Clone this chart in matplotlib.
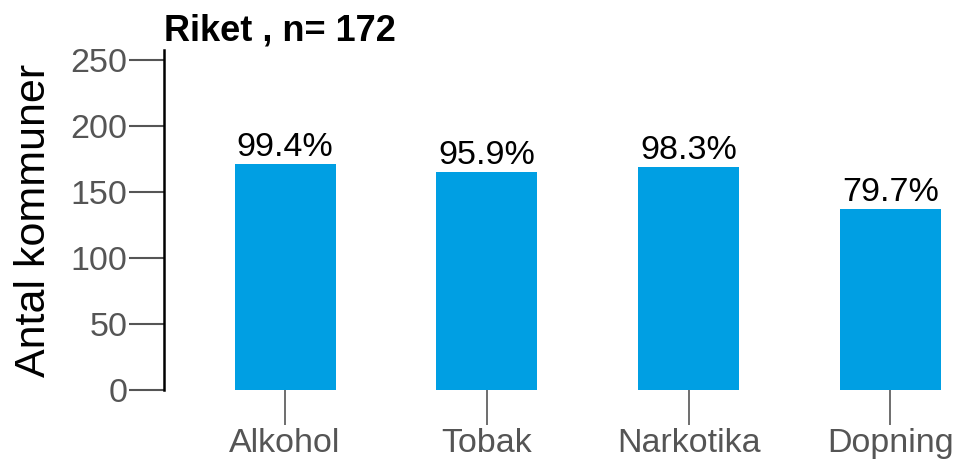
import matplotlib
matplotlib.use("Agg")
import matplotlib.pyplot as plt

# data
categories = ['Alkohol', 'Tobak', 'Narkotika', 'Dopning']
counts = [171, 165, 169, 137]
pct_labels = ['99.4%', '95.9%', '98.3%', '79.7%']
n_total = 172

plt.rcParams['font.family'] = ['Liberation Sans', 'DejaVu Sans']

fig = plt.figure(figsize=(9.57, 4.61), dpi=100)
ax = fig.add_axes([164/957, 71/461, 793/957, 340/461])

x = range(len(categories))
ax.bar(x, counts, width=0.5, color='#009FE3')
for xi, c, lab in zip(x, counts, pct_labels):
    ax.text(xi, c + 1, lab, ha='center', va='bottom', fontsize=24.5, color='black')

ax.set_xlim(-0.6, 3.33)
ax.set_ylim(0, 257.6)
ax.set_yticks([0, 50, 100, 150, 200, 250])
ax.set_xticks(list(x))
ax.set_xticklabels(categories)

for s in ['top', 'right', 'bottom']:
    ax.spines[s].set_visible(False)
ax.spines['left'].set_linewidth(1.8)
ax.spines['left'].set_color('black')

ax.tick_params(axis='y', length=25, width=1.5, color='#555555',
               labelsize=24.5, labelcolor='#555555', pad=1.5)
ax.tick_params(axis='x', length=25.5, width=1.2, color='#555555',
               labelsize=24.5, labelcolor='#555555', pad=1.5)

ax.set_ylabel('Antal kommuner', fontsize=31, color='black')
ax.yaxis.set_label_coords(-0.139, 0.5)
ax.set_title('Riket , n= {}'.format(n_total), loc='left', fontsize=26,
             fontweight='bold', pad=7)

fig.savefig('out.png', dpi=100)
